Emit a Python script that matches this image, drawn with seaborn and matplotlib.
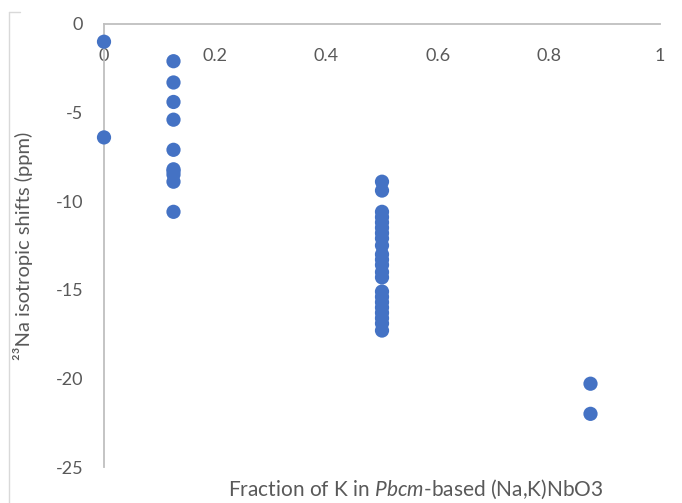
import pandas as pd
import matplotlib.pyplot as plt
import seaborn as sns
from matplotlib.lines import Line2D

# Data
x_k0 = [0.0, 0.0]
y_k0 = [-1.0, -6.4]

x_k125 = [0.125] * 10
y_k125 = [-2.1, -3.3, -4.4, -5.4, -7.1, -8.2, -8.5, -8.9, -10.6, -8.3]

y_k5 = [-8.9, -9.4, -10.6, -10.9, -11.2, -11.5, -11.8, -12.1, -12.5,
        -13.0, -13.3, -13.6, -14.0, -14.3, -15.1, -15.4, -15.7, -16.0,
        -16.3, -16.6, -16.9, -17.3]
x_k5 = [0.5] * len(y_k5)

x_k875 = [0.875, 0.875]
y_k875 = [-20.3, -22.0]

x_ticks = [0, 0.2, 0.4, 0.6, 0.8, 1]
x_ticklabels = ["0", "0.2", "0.4", "0.6", "0.8", "1"]
y_ticks = [0, -5, -10, -15, -20, -25]
y_ticklabels = ["0", "-5", "-10", "-15", "-20", "-25"]

df = pd.DataFrame({
    "frac": x_k0 + x_k125 + x_k5 + x_k875,
    "shift": y_k0 + y_k125 + y_k5 + y_k875,
})

sns.set_style("white")
plt.rcParams["font.family"] = ["Lato", "DejaVu Sans"]
plt.rcParams["mathtext.fontset"] = "custom"
plt.rcParams["mathtext.rm"] = "Lato"
plt.rcParams["mathtext.it"] = "Lato:italic"
plt.rcParams["axes.unicode_minus"] = False

text_col = "#595959"
axis_col = "#BFBFBF"

fig = plt.figure(figsize=(6.82, 5.03), dpi=100)
ax = fig.add_axes([104 / 682, 1 - 467 / 503, 556 / 682, 443 / 503])

sns.scatterplot(data=df, x="frac", y="shift", ax=ax, color="#4472C4",
                s=105, edgecolor="none", linewidth=0, zorder=3, clip_on=False)

ax.set_xlim(0, 1)
ax.set_ylim(-25, 0)

ax.set_xticks(x_ticks)
ax.set_xticklabels(x_ticklabels)
ax.set_yticks(y_ticks)
ax.set_yticklabels(y_ticklabels)

# x axis line sits at y = 0 (top), labels hang below it
ax.tick_params(axis="x", top=True, labeltop=True, bottom=False, labelbottom=False,
               length=0, pad=-29, labelsize=13, labelcolor=text_col)
ax.tick_params(axis="y", length=0, pad=15, labelsize=13, labelcolor=text_col)

for side in ["right", "bottom"]:
    ax.spines[side].set_visible(False)
for side in ["top", "left"]:
    ax.spines[side].set_color(axis_col)
    ax.spines[side].set_linewidth(1.3)
    ax.spines[side].set_zorder(1)
ax.grid(False)

ax.xaxis.set_label_position("bottom")
ax.set_xlabel(r"Fraction of K in $\mathit{Pbcm}$-based (Na,K)NbO3",
              fontsize=15, color=text_col)
ax.xaxis.set_label_coords(0.56, -0.025)
ax.set_ylabel("²³Na isotropic shifts (ppm)", fontsize=14.5, color=text_col)
ax.yaxis.set_label_coords(-0.128, 0.5)

# chart-area border corner (light grey)
fig.add_artist(Line2D([9 / 682, 9 / 682], [0, 1 - 12 / 503],
                      transform=fig.transFigure, color="#D9D9D9", lw=1))
fig.add_artist(Line2D([9 / 682, 20 / 682], [1 - 12 / 503, 1 - 12 / 503],
                      transform=fig.transFigure, color="#D9D9D9", lw=1))

fig.savefig("out.png", dpi=100)
